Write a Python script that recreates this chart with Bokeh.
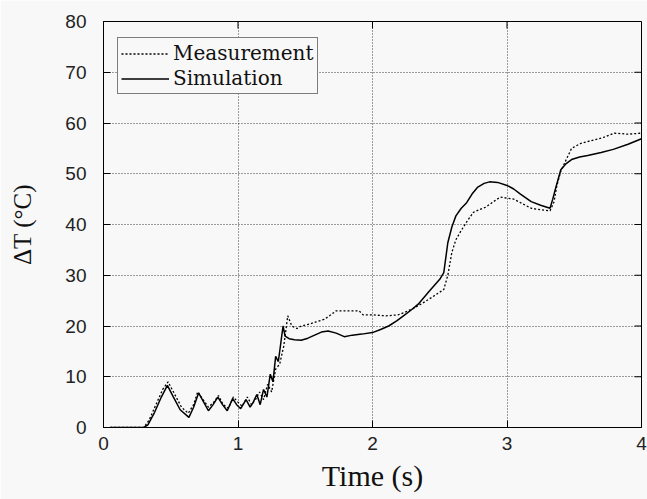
import math
from bokeh.plotting import figure
from bokeh.models import Range1d, Legend, LegendItem, FixedTicker, Title
from bokeh.embed import file_html
from bokeh.resources import INLINE

# Simulation (solid)
sim_t = [0.05, 0.2, 0.3, 0.33, 0.38, 0.43, 0.475, 0.52, 0.57, 0.635, 0.67, 0.707, 0.745, 0.78,
         0.815, 0.85, 0.885, 0.92, 0.96, 0.99, 1.02, 1.06, 1.09, 1.11, 1.14, 1.165, 1.19, 1.215,
         1.24, 1.26, 1.28, 1.30, 1.32, 1.335, 1.35, 1.38, 1.42, 1.47, 1.52, 1.57, 1.62, 1.67,
         1.73, 1.79, 1.85, 1.92, 2.0, 2.06, 2.12, 2.18, 2.23, 2.29, 2.34, 2.42, 2.50, 2.53,
         2.56, 2.59, 2.62, 2.66, 2.70, 2.74, 2.78, 2.83, 2.87, 2.93, 3.0, 3.05, 3.10, 3.18,
         3.25, 3.32, 3.34, 3.36, 3.40, 3.44, 3.48, 3.54, 3.60, 3.70, 3.79, 3.90, 4.0]
sim_v = [0, 0, 0, 0.5, 3, 6, 8.3, 6, 3.5, 2, 4, 6.8, 5, 3.3,
         4.5, 6, 4.5, 3.3, 5.7, 4.5, 3.7, 5.5, 4, 4.8, 6.5, 4.5, 7.5, 6,
         10.5, 9, 14, 13, 17, 20, 18, 17.5, 17.3, 17.2, 17.6, 18.2, 18.8, 19,
         18.6, 17.9, 18.2, 18.4, 18.7, 19.3, 20, 21, 22, 23.2, 24.3, 26.8, 29.2, 30.5,
         36.4, 39.5, 41.7, 43.2, 44.3, 46, 47.3, 48.1, 48.4, 48.3, 47.7, 47, 46, 44.5,
         43.8, 43.2, 45, 47, 50.8, 52, 52.8, 53.3, 53.6, 54.2, 54.8, 55.8, 56.9]

# Measurement (dotted)
mea_t = [0.05, 0.2, 0.3, 0.34, 0.39, 0.44, 0.48, 0.53, 0.58, 0.63, 0.67, 0.70, 0.74, 0.78,
         0.82, 0.855, 0.89, 0.93, 0.965, 1.0, 1.03, 1.07, 1.10, 1.13, 1.16, 1.19, 1.22, 1.25,
         1.28, 1.31, 1.34, 1.37, 1.40, 1.44, 1.47, 1.52, 1.58, 1.64, 1.68, 1.73, 1.8, 1.9,
         1.93, 2.0, 2.1, 2.19, 2.23, 2.3, 2.36, 2.45, 2.53, 2.56, 2.59, 2.62, 2.65, 2.70,
         2.75, 2.80, 2.84, 2.90, 2.95, 3.0, 3.05, 3.10, 3.18, 3.25, 3.32, 3.35, 3.37, 3.40,
         3.43, 3.48, 3.55, 3.62, 3.70, 3.80, 3.90, 4.0]
mea_v = [0, 0, 0, 1.5, 4.5, 7.5, 9, 6.5, 4, 2.8, 4.5, 7, 5.5, 4,
         5, 6.3, 4.5, 3.8, 6, 5, 4.2, 6, 4.5, 5.5, 7, 5.5, 8.5, 7,
         11.5, 12.5, 16, 22, 20, 19.5, 20, 20.3, 20.8, 21.3, 22, 23, 23, 23,
         22.2, 22.2, 22, 22.2, 22.6, 23.4, 24.3, 25.8, 27.2, 30, 34.5, 37, 38.4, 40.5,
         42.4, 43, 43.4, 44.5, 45.4, 45.2, 45, 44.3, 43.2, 42.9, 42.7, 44.5, 47.6, 50.5,
         52.2, 55, 56, 56.5, 57, 58, 57.8, 58]

x_ticks = [0, 1, 2, 3, 4]
y_ticks = [0, 10, 20, 30, 40, 50, 60, 70, 80]

BG = "#f8f8f8"
p = figure(width=647, height=499, output_backend="svg", toolbar_location=None,
           x_range=Range1d(0, 4), y_range=Range1d(0, 80),
           background_fill_color=BG, border_fill_color=BG,
           min_border_left=103, min_border_right=6, min_border_top=21, min_border_bottom=72)
p.outline_line_color = "black"
p.outline_line_width = 1

for ax in (p.xaxis[0], p.yaxis[0]):
    ax.major_tick_in = 7
    ax.major_tick_out = 0
    ax.minor_tick_line_color = None
    ax.axis_line_color = "black"
    ax.major_tick_line_color = "black"
    ax.major_label_text_font = "Liberation Sans"
    ax.major_label_text_font_size = "19px"
    ax.major_label_text_color = "#222222"
    ax.axis_label_text_font = "Liberation Serif"
    ax.axis_label_text_font_style = "normal"
    ax.axis_label_text_color = "#111111"

p.xaxis.ticker = FixedTicker(ticks=x_ticks)
p.yaxis.ticker = FixedTicker(ticks=y_ticks)
p.xaxis.major_label_standoff = 9
p.yaxis.major_label_standoff = 17
p.yaxis.axis_label = "ΔT (°C)"
p.yaxis.axis_label_text_font_size = "25px"
p.yaxis.axis_label_standoff = 26

p.xgrid.ticker = FixedTicker(ticks=x_ticks)
p.ygrid.ticker = FixedTicker(ticks=y_ticks)
p.grid.grid_line_color = "#000000"
p.grid.grid_line_alpha = 0.75
p.grid.grid_line_dash = "1 2"
p.grid.grid_line_width = 1

# inward ticks on the right and top borders
p.ray(x=[4] * len(y_ticks), y=y_ticks, length=7, angle=math.pi, length_units="screen",
      line_color="black", line_width=1)
p.ray(x=x_ticks, y=[80] * len(x_ticks), length=7, angle=-math.pi / 2, length_units="screen",
      line_color="black", line_width=1)

r_mea = p.line(mea_t, mea_v, line_color="black", line_width=1.3, line_dash="2 2")
r_sim = p.line(sim_t, sim_v, line_color="black", line_width=1.5)

xt = Title(text="Time (s)", align="center", text_font="Liberation Serif", text_font_size="30px",
           text_font_style="normal", text_color="#111111", standoff=8)
p.add_layout(xt, "below")

legend = Legend(items=[LegendItem(label="Measurement", renderers=[r_mea]),
                       LegendItem(label="Simulation", renderers=[r_sim])])
legend.margin = 0
legend.location = (14, 333)
legend.padding = 3
legend.spacing = 1
legend.label_height = 23
legend.glyph_height = 23
legend.glyph_width = 48
legend.label_standoff = 4
legend.label_text_font = "DejaVu Serif"
legend.label_text_font_size = "20px"
legend.label_text_color = "#111111"
legend.border_line_color = "black"
legend.border_line_width = 1
legend.background_fill_color = BG
legend.background_fill_alpha = 1
p.add_layout(legend, "center")

open("out.html", "w").write(file_html(p, INLINE))
